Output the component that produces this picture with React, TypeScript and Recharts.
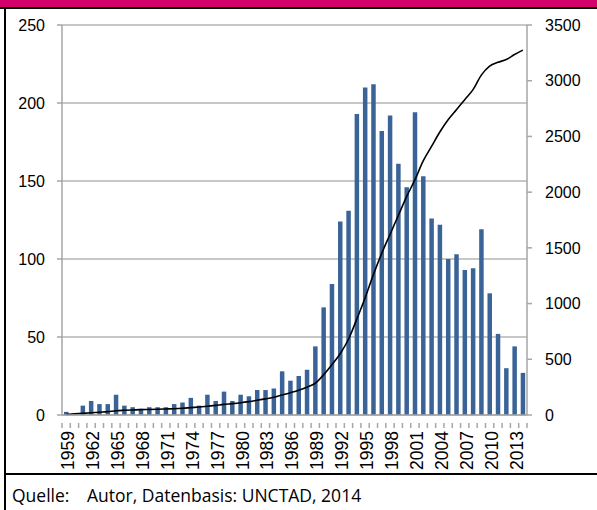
import React from 'react';
import {
  ComposedChart,
  Bar,
  Line,
  XAxis,
  YAxis,
  CartesianGrid,
} from 'recharts';

// Jahre (Kategorien)
const years = [
  '1959', '1960', '1961', '1962', '1963', '1964', '1965', '1966', '1967', '1968',
  '1969', '1970', '1971', '1972', '1973', '1974', '1975', '1976', '1977', '1978',
  '1979', '1980', '1981', '1982', '1983', '1984', '1985', '1986', '1987', '1988',
  '1989', '1990', '1991', '1992', '1993', '1994', '1995', '1996', '1997', '1998',
  '1999', '2000', '2001', '2002', '2003', '2004', '2005', '2006', '2007', '2008',
  '2009', '2010', '2011', '2012', '2013', '2014',
];

// Neue Abkommen pro Jahr (linke Achse)
const perYear = [
  2, 0, 6, 9, 7, 7, 13, 6, 5, 4,
  5, 5, 5, 7, 8, 11, 6, 13, 9, 15,
  9, 13, 12, 16, 16, 17, 28, 22, 25, 29,
  44, 69, 84, 124, 131, 193, 210, 212, 182, 192,
  161, 146, 194, 153, 126, 122, 100, 103, 93, 94,
  119, 78, 52, 30, 44, 27,
];

// Kumulierte Anzahl (rechte Achse)
const cumulative = [
  5, 10, 15, 20, 25, 30, 38, 42, 45, 48,
  50, 52, 54, 56, 60, 66, 72, 78, 86, 95,
  102, 110, 120, 132, 145, 160, 180, 200, 222, 250,
  285, 360, 450, 550, 680, 860, 1050, 1260, 1450, 1620,
  1790, 1960, 2110, 2280, 2410, 2540, 2650, 2740, 2830, 2920,
  3050, 3130, 3165, 3190, 3235, 3275,
];

const leftTicks = [0, 50, 100, 150, 200, 250];
const rightTicks = [0, 500, 1000, 1500, 2000, 2500, 3000, 3500];

const data = years.map((y, i) => ({
  year: y,
  count: perYear[i],
  total: cumulative[i],
}));

const AXIS_GRAY = '#A6A6A6';
const FONT = '"Liberation Sans", Arial, sans-serif';

const YearTick = (props: any) => {
  const { x, y, payload, index } = props;
  const half = 465 / years.length / 2;
  const idx = payload?.index ?? index;
  const showLabel = (Number(payload.value) - 1959) % 3 === 0;
  return (
    <g>
      <line x1={x - half} y1={y} x2={x - half} y2={y + 5} stroke={AXIS_GRAY} strokeWidth={1.5} />
      {idx === years.length - 1 && (
        <line x1={x + half} y1={y} x2={x + half} y2={y + 5} stroke={AXIS_GRAY} strokeWidth={1.5} />
      )}
      {showLabel && (
        <text
          transform={`translate(${x + 8},${y + 8}) rotate(-90)`}
          textAnchor="end"
          fontSize={17.5}
          fontFamily={FONT}
          fill="#000"
        >
          {payload.value}
        </text>
      )}
    </g>
  );
};

export default function App() {
  return (
    <div style={{ position: 'absolute', left: 0, top: 0, width: 597, height: 510, background: '#fff', overflow: 'hidden' }}>
      <div style={{ position: 'absolute', left: 0, top: 0, width: 597, height: 7, background: '#D1006B' }} />
      <div style={{ position: 'absolute', left: 0, top: 7, width: 597, height: 2, background: '#000' }} />
      <div style={{ position: 'absolute', left: 4, top: 7, width: 2, height: 503, background: '#000' }} />
      <div style={{ position: 'absolute', left: 4, top: 473, width: 593, height: 2, background: '#000' }} />

      <div style={{ position: 'absolute', left: 0, top: 0 }}>
        <ComposedChart
          width={597}
          height={470}
          data={data}
          margin={{ top: 25, right: 0, left: 0, bottom: 0 }}
        >
          <CartesianGrid yAxisId="left" vertical={false} stroke="#B5B5B5" strokeWidth={1.5} />
          <XAxis
            dataKey="year"
            interval={0}
            height={55}
            tickLine={false}
            axisLine={{ stroke: AXIS_GRAY, strokeWidth: 1.5 }}
            tick={<YearTick />}
          />
          <YAxis
            yAxisId="left"
            width={62}
            domain={[0, 250]}
            ticks={leftTicks}
            tickSize={5}
            tickMargin={12}
            axisLine={{ stroke: AXIS_GRAY, strokeWidth: 1.5 }}
            tickLine={{ stroke: AXIS_GRAY, strokeWidth: 1.5 }}
            tick={{ fill: '#000', fontSize: 16, fontFamily: FONT }}
          />
          <YAxis
            yAxisId="right"
            orientation="right"
            width={70}
            domain={[0, 3500]}
            ticks={rightTicks}
            tickSize={5}
            tickMargin={13}
            axisLine={{ stroke: AXIS_GRAY, strokeWidth: 1.5 }}
            tickLine={{ stroke: AXIS_GRAY, strokeWidth: 1.5 }}
            tick={{ fill: '#000', fontSize: 16, fontFamily: FONT, textAnchor: 'start' }}
          />
          <Bar
            yAxisId="left"
            dataKey="count"
            fill="#3A6497"
            barSize={4.5}
            isAnimationActive={false}
          />
          <Line
            yAxisId="right"
            dataKey="total"
            type="monotone"
            stroke="#000"
            strokeWidth={1.6}
            dot={false}
            isAnimationActive={false}
          />
        </ComposedChart>
      </div>

      <div
        style={{
          position: 'absolute',
          left: 12,
          top: 483,
          fontFamily: '"Open Sans", sans-serif',
          fontSize: 17.5,
          color: '#000',
          whiteSpace: 'nowrap',
        }}
      >
        <span style={{ display: 'inline-block', width: 75 }}>Quelle:</span>
        <span>Autor, Datenbasis: UNCTAD, 2014</span>
      </div>
    </div>
  );
}
